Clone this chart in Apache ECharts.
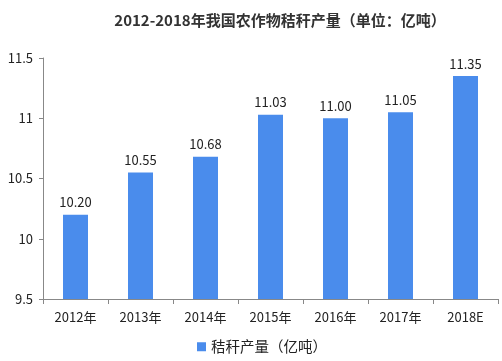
<!DOCTYPE html>
<html><head><meta charset="utf-8">
<script src="https://cdn.jsdelivr.net/npm/echarts@6/dist/echarts.min.js"></script>
<style>html,body{margin:0;padding:0;background:#fff}#c{width:502px;height:361px}</style>
</head><body><div id="c"></div>
<script>
const categories = ['2012年','2013年','2014年','2015年','2016年','2017年','2018E'];
const values = [10.20, 10.55, 10.68, 11.03, 11.00, 11.05, 11.35];
const yTicks = [9.5, 10, 10.5, 11, 11.5];
const seriesName = '秸秆产量（亿吨）';
const titleText = '2012-2018年我国农作物秸秆产量（单位：亿吨）';

const font = '"Microsoft YaHei","Noto Sans CJK SC",sans-serif';
const chart = echarts.init(document.getElementById('c'));
chart.setOption({
  animation: false,
  title: {
    text: titleText, left: 275, top: 8, textAlign: 'center',
    textStyle: {fontSize: 15, fontWeight: 'bold', color: '#333', fontFamily: font}
  },
  legend: {
    bottom: 2, left: 192, itemWidth: 9, itemHeight: 9, itemGap: 4,
    icon: 'rect',
    textStyle: {fontSize: 14.5, color: '#222', fontFamily: font}
  },
  grid: {left: 43, right: 4, top: 58, bottom: 62},
  xAxis: {
    type: 'category', data: categories,
    axisLine: {lineStyle: {color: '#888'}},
    axisTick: {show: true, length: 5, lineStyle: {color: '#888'}},
    axisLabel: {fontSize: 13, color: '#222', margin: 12, fontFamily: font}
  },
  yAxis: {
    type: 'value', min: yTicks[0], max: yTicks[yTicks.length-1], interval: 0.5,
    axisLine: {show: true, lineStyle: {color: '#888'}},
    axisTick: {show: true, length: 4, lineStyle: {color: '#888'}},
    splitLine: {show: false},
    axisLabel: {fontSize: 13, color: '#222', margin: 10, fontFamily: font}
  },
  series: [{
    name: seriesName, type: 'bar', data: values, barWidth: 25,
    itemStyle: {color: '#4a8cec'},
    label: {show: true, position: 'top', fontSize: 13, color: '#222', distance: 6,
      fontFamily: font, formatter: p => p.value.toFixed(2)}
  }]
});
</script></body></html>
